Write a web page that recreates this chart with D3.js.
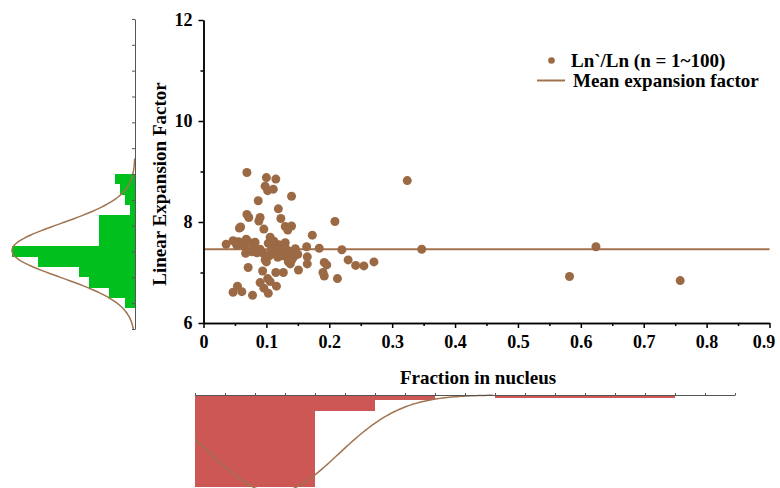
<!DOCTYPE html>
<meta charset="utf-8">
<style>
    body { margin: 0; background: #fff; }
    text { font-family: "Liberation Serif", "Times New Roman", serif; font-weight: bold; }
    .axis path, .axis line { stroke: #000; stroke-width: 1.5px; }
    .haxis path, .haxis line { stroke: #555; stroke-width: 1px; }
</style>
<body>
<script src="https://d3js.org/d3.v7.min.js"></script>
<script>
    // scatter: fraction in nucleus vs linear expansion factor
    var ptsX = [0.069,0.100,0.115,0.098,0.102,0.111,0.140,0.087,0.119,0.069,0.072,0.090,0.088,0.123,0.209,
        0.057,0.059,0.096,0.130,0.140,0.134,0.173,0.106,0.036,0.047,0.056,0.068,0.071,0.053,0.103,
        0.130,0.164,0.184,0.220,0.067,0.077,0.085,0.095,0.109,0.117,0.127,0.138,0.143,0.135,0.138,
        0.165,0.165,0.100,0.071,0.151,0.192,0.196,0.230,0.242,0.255,0.271,0.094,0.115,0.127,0.190,
        0.192,0.213,0.090,0.102,0.106,0.054,0.047,0.061,0.078,0.096,0.103,0.116,0.324,0.347,0.624,
        0.582,0.758,0.050,0.062,0.080,0.069,0.098,0.108,0.113,0.121,0.125,0.131,0.136,0.142,0.146,
        0.120,0.128,0.090,0.105,0.134,0.140,0.112,0.150,0.082,0.118];
    var ptsY = [8.98,8.88,8.85,8.71,8.62,8.65,8.51,8.42,8.26,8.15,8.09,8.09,8.02,8.07,8.01,
        7.88,7.90,7.86,7.91,7.92,7.84,7.74,7.70,7.56,7.63,7.61,7.66,7.61,7.54,7.58,
        7.59,7.51,7.48,7.45,7.38,7.41,7.39,7.38,7.41,7.38,7.41,7.35,7.30,7.21,7.17,
        7.31,7.17,7.21,7.10,7.05,7.20,7.15,7.25,7.14,7.13,7.21,7.03,7.00,7.00,7.00,
        6.93,6.88,6.80,6.88,6.82,6.73,6.61,6.62,6.55,6.69,6.59,6.73,8.82,7.46,7.51,
        6.92,6.84,7.61,7.55,7.51,7.44,7.25,7.45,7.50,7.44,7.33,7.47,7.42,7.40,7.47,
        7.55,7.52,7.46,7.33,7.27,7.24,7.62,7.36,7.60,7.30];
    var meanFactor = 7.46;

    var xTicks = [0, 0.1, 0.2, 0.3, 0.4, 0.5, 0.6, 0.7, 0.8, 0.9];
    var xTickLabels = ["0", "0.1", "0.2", "0.3", "0.4", "0.5", "0.6", "0.7", "0.8", "0.9"];
    var yTicks = [6, 8, 10, 12];
    var yTickLabels = ["6", "8", "10", "12"];

    // left histogram (linear expansion factor), bins of 0.2 starting at 6.4
    var yBinLow = [6.4, 6.6, 6.8, 7.0, 7.2, 7.4, 7.6, 7.8, 8.0, 8.2, 8.4, 8.6, 8.8];
    var yBinCount = [2, 5, 9, 11, 19, 24, 7, 7, 7, 1, 2, 3, 4];
    var yFit = {mean: 7.52, sd: 0.52, peak: 24};

    // bottom histogram (fraction in nucleus), bins of 0.1
    var xBinLow = [0, 0.1, 0.2, 0.3, 0.4, 0.5, 0.6, 0.7, 0.8];
    var xBinCount = [40, 49, 6, 2, 0, 1, 1, 1, 0];
    var xFit = {mean: 0.133, sd: 0.106, peak: 37.5};

    var brown = "#9b6a45", lineBrown = "#a3734f", curveBrown = "#a07450";
    var serif = '"Liberation Serif", "Times New Roman", serif';

    var svg = d3.select("body").append("svg")
        .attr("width", 780)
        .attr("height", 488);

    var x = d3.scaleLinear().domain([0, 0.9]).range([203.5, 769.5]);
    var y = d3.scaleLinear().domain([6, 12]).range([323, 20]);

    // ---- left histogram ----
    var yh = d3.scaleLinear().domain([6, 12]).range([329, 19]);
    var hx = d3.scaleLinear().domain([0, 24]).range([135, 12]);

    svg.append("g").selectAll("rect")
        .data(yBinLow)
        .enter().append("rect")
        .attr("x", function(d, i) { return hx(yBinCount[i]); })
        .attr("width", function(d, i) { return hx(0) - hx(yBinCount[i]); })
        .attr("y", function(d) { return yh(d + 0.2); })
        .attr("height", function(d) { return yh(d) - yh(d + 0.2); })
        .attr("fill", "#00c01e")
        .attr("shape-rendering", "crispEdges");

    var yCurve = d3.range(6, 9.3, 0.02).map(function(v) {
        return [hx(yFit.peak * Math.exp(-Math.pow(v - yFit.mean, 2) / (2 * yFit.sd * yFit.sd))), yh(v)];
    });
    svg.append("path")
        .attr("d", d3.line()(yCurve))
        .attr("fill", "none")
        .attr("stroke", curveBrown)
        .attr("stroke-width", 1.5);

    svg.append("g")
        .attr("class", "haxis")
        .attr("transform", "translate(135,0)")
        .call(d3.axisLeft(yh).tickValues(d3.range(6, 12.01, 0.5)).tickFormat("").tickSize(3).tickSizeOuter(0));

    // ---- bottom histogram ----
    var xb = d3.scaleLinear().domain([0, 0.9]).range([195, 735]);
    var hy = d3.scaleLinear().domain([0, 37.5]).range([395, 492.5]);

    svg.append("g").selectAll("rect")
        .data(xBinLow)
        .enter().append("rect")
        .attr("x", function(d) { return xb(d); })
        .attr("width", function(d) { return xb(d + 0.1) - xb(d); })
        .attr("y", 395)
        .attr("height", function(d, i) { return Math.min(hy(xBinCount[i]), 487) - 395; })
        .attr("fill", "#cd5755")
        .attr("shape-rendering", "crispEdges");

    var xCurve = d3.range(0, 0.5, 0.004).map(function(v) {
        return [xb(v), hy(xFit.peak * Math.exp(-Math.pow(v - xFit.mean, 2) / (2 * xFit.sd * xFit.sd)))];
    });
    svg.append("path")
        .attr("d", d3.line()(xCurve))
        .attr("fill", "none")
        .attr("stroke", curveBrown)
        .attr("stroke-width", 1.5);

    svg.append("g")
        .attr("class", "haxis")
        .attr("transform", "translate(0,395)")
        .call(d3.axisTop(xb).tickValues(d3.range(0, 0.901, 0.05)).tickFormat("").tickSize(2).tickSizeOuter(0));

    // ---- main plot ----
    svg.append("line")
        .attr("x1", x(0)).attr("x2", x(0.9))
        .attr("y1", y(meanFactor)).attr("y2", y(meanFactor))
        .attr("stroke", lineBrown)
        .attr("stroke-width", 2);

    svg.append("g").selectAll("circle")
        .data(ptsX)
        .enter().append("circle")
        .attr("cx", function(d) { return x(d); })
        .attr("cy", function(d, i) { return y(ptsY[i]); })
        .attr("r", 4.5)
        .attr("fill", brown);

    // x axis with minor ticks
    svg.append("g")
        .attr("class", "axis")
        .attr("transform", "translate(0,323)")
        .call(d3.axisBottom(x).tickValues(d3.range(0.05, 0.9, 0.1)).tickFormat("").tickSize(3).tickSizeOuter(0));
    var xAxisG = svg.append("g")
        .attr("class", "axis")
        .attr("transform", "translate(0,323)")
        .call(d3.axisBottom(x).tickValues(xTicks)
            .tickFormat(function(d, i) { return xTickLabels[i]; })
            .tickSize(5).tickPadding(7).tickSizeOuter(0));

    // y axis with minor ticks
    svg.append("g")
        .attr("class", "axis")
        .attr("transform", "translate(203.5,0)")
        .call(d3.axisLeft(y).tickValues([7, 9, 11]).tickFormat("").tickSize(3).tickSizeOuter(0));
    svg.append("g")
        .attr("class", "axis")
        .attr("transform", "translate(203.5,0)")
        .call(d3.axisLeft(y).tickValues(yTicks)
            .tickFormat(function(d, i) { return yTickLabels[i]; })
            .tickSize(5).tickPadding(6).tickSizeOuter(0));

    svg.selectAll(".axis .domain").attr("stroke-width", 2);
    svg.selectAll(".axis text")
        .style("font-family", serif)
        .style("font-size", "18px")
        .style("font-weight", "bold");

    // keep the last x label inside the picture
    xAxisG.selectAll(".tick text").filter(function(d) { return d === 0.9; })
        .attr("dx", -6);

    // axis titles
    svg.append("text")
        .attr("x", 478)
        .attr("y", 384)
        .style("text-anchor", "middle")
        .style("font-size", "19px")
        .text("Fraction in nucleus");

    svg.append("text")
        .attr("transform", "translate(166,184) rotate(-90)")
        .style("text-anchor", "middle")
        .style("font-size", "19px")
        .text("Linear Expansion Factor");

    // legend
    var legend = svg.append("g");
    legend.append("circle")
        .attr("cx", 551.5).attr("cy", 60.5).attr("r", 3.3)
        .attr("fill", brown);
    legend.append("text")
        .attr("x", 571).attr("y", 66.5)
        .style("font-size", "19px")
        .text("Ln`/Ln (n = 1~100)");
    legend.append("line")
        .attr("x1", 537).attr("x2", 565)
        .attr("y1", 80.5).attr("y2", 80.5)
        .attr("stroke", lineBrown).attr("stroke-width", 2);
    legend.append("text")
        .attr("x", 573).attr("y", 87)
        .style("font-size", "19px")
        .text("Mean expansion factor");
</script>
</body>
